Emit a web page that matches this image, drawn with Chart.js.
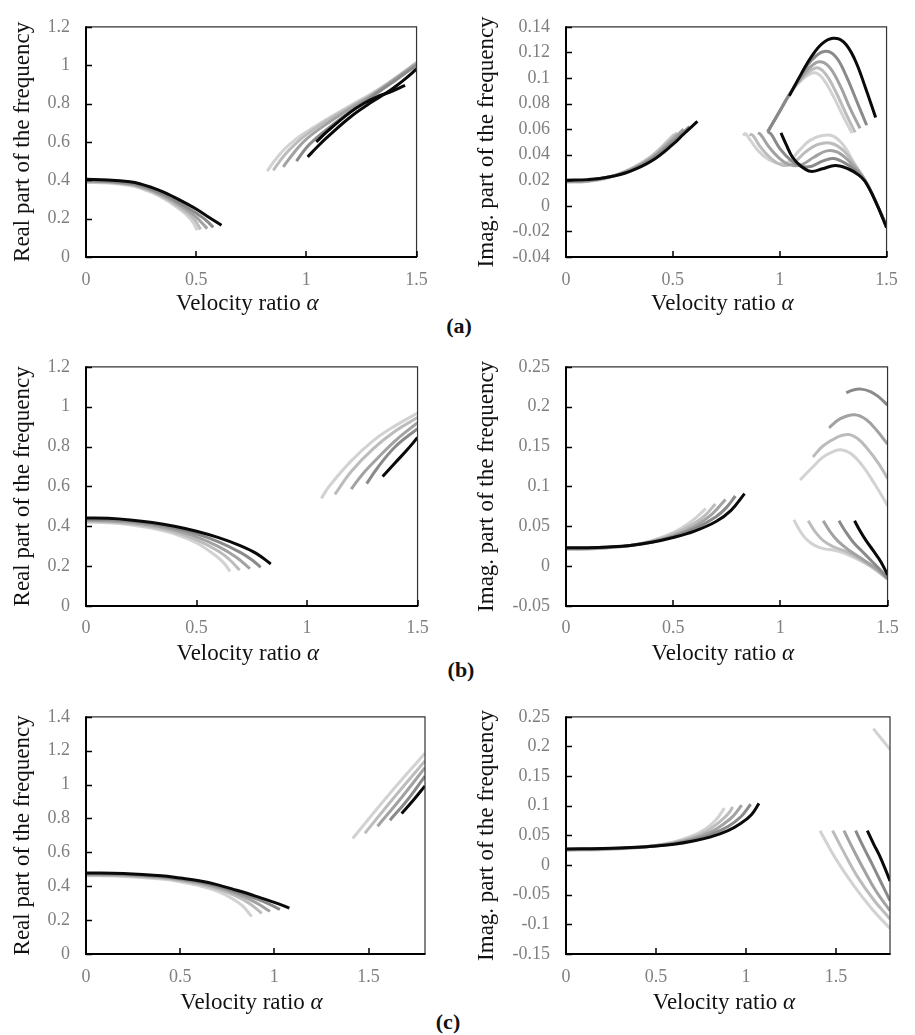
<!DOCTYPE html>
<html>
<head>
<meta charset="utf-8">
<script src="https://cdn.jsdelivr.net/npm/chart.js@4.4.1/dist/chart.umd.min.js"></script>
<style>
  html, body { margin: 0; padding: 0; background: #ffffff; }
  body { width: 915px; height: 1035px; position: relative; overflow: hidden; }
  .panel { position: absolute; }
  .tag { position: absolute; font-family: 'Liberation Serif', 'Times New Roman', serif; font-weight: bold; font-size: 22px; color: #111; transform: translate(-50%, -50%); white-space: nowrap; }
</style>
</head>
<body>
<div class="tag" style="left:459px; top:326px;">(a)</div>
<div class="tag" style="left:461px; top:670px;">(b)</div>
<div class="tag" style="left:448px; top:1022px;">(c)</div>
<script>
// ---------- tick values ----------
const xTicksAB = [0, 0.5, 1, 1.5];
const xTicksC = [0, 0.5, 1, 1.5];
const yTicksReA = [0, 0.2, 0.4, 0.6, 0.8, 1, 1.2];
const yTicksImA = [-0.04, -0.02, 0, 0.02, 0.04, 0.06, 0.08, 0.1, 0.12, 0.14];
const yTicksReB = [0, 0.2, 0.4, 0.6, 0.8, 1, 1.2];
const yTicksImB = [-0.05, 0, 0.05, 0.1, 0.15, 0.2, 0.25];
const yTicksReC = [0, 0.2, 0.4, 0.6, 0.8, 1, 1.2, 1.4];
const yTicksImC = [-0.15, -0.1, -0.05, 0, 0.05, 0.1, 0.15, 0.2, 0.25];

// series shade index: 0 = black, 1..4 = darker to lighter grey
// ---------- panel (a) real part ----------
const a_re_k_lo = [[0,0.405],[0.1,0.402],[0.2,0.392],[0.25,0.38],[0.3,0.362],[0.35,0.34],[0.4,0.312],[0.45,0.282],[0.5,0.25],[0.55,0.213],[0.615,0.165]];
const a_re_4_lo = [[0,0.398],[0.1,0.395],[0.2,0.384],[0.25,0.371],[0.3,0.352],[0.35,0.328],[0.4,0.298],[0.45,0.265],[0.5,0.229],[0.54,0.196],[0.578,0.155]];
const a_re_3_lo = [[0,0.395],[0.1,0.392],[0.2,0.38],[0.25,0.366],[0.3,0.346],[0.35,0.32],[0.4,0.288],[0.45,0.251],[0.5,0.208],[0.55,0.148]];
const a_re_2_lo = [[0,0.392],[0.1,0.389],[0.2,0.376],[0.25,0.362],[0.3,0.341],[0.35,0.313],[0.4,0.279],[0.45,0.238],[0.49,0.198],[0.52,0.143]];
const a_re_1_lo = [[0,0.389],[0.1,0.386],[0.2,0.372],[0.25,0.357],[0.3,0.335],[0.35,0.306],[0.4,0.27],[0.45,0.226],[0.48,0.19],[0.505,0.14]];
const a_re_k_up1 = [[1.006,0.522],[1.05,0.575],[1.1,0.63],[1.2,0.73],[1.3,0.81],[1.36,0.853],[1.4,0.885],[1.45,0.93],[1.5,0.98]];
const a_re_k_up2 = [[1.045,0.6],[1.1,0.66],[1.2,0.755],[1.26,0.8],[1.32,0.835],[1.38,0.86],[1.448,0.895]];
const a_re_4_up = [[0.955,0.5],[1.0,0.57],[1.05,0.625],[1.1,0.672],[1.2,0.758],[1.3,0.838],[1.4,0.918],[1.5,1.0]];
const a_re_3_up = [[0.895,0.47],[0.95,0.553],[1.0,0.615],[1.1,0.70],[1.2,0.775],[1.3,0.845],[1.4,0.925],[1.5,1.008]];
const a_re_2_up = [[0.85,0.452],[0.9,0.53],[0.95,0.59],[1.0,0.638],[1.1,0.715],[1.2,0.783],[1.3,0.85],[1.4,0.928],[1.5,1.012]];
const a_re_1_up = [[0.822,0.448],[0.86,0.508],[0.9,0.562],[0.95,0.612],[1.0,0.652],[1.1,0.723],[1.2,0.79],[1.3,0.855],[1.4,0.93],[1.5,1.015]];

// ---------- panel (a) imaginary part ----------
const a_im_k_lo = [[0,0.02],[0.1,0.0205],[0.2,0.0225],[0.3,0.027],[0.4,0.035],[0.5,0.048],[0.55,0.056],[0.615,0.066]];
const a_im_4_lo = [[0,0.0195],[0.1,0.02],[0.2,0.0225],[0.3,0.0275],[0.4,0.0365],[0.5,0.05],[0.578,0.062]];
const a_im_3_lo = [[0,0.019],[0.1,0.0195],[0.2,0.0225],[0.3,0.028],[0.4,0.0375],[0.5,0.052],[0.55,0.06]];
const a_im_2_lo = [[0,0.0188],[0.1,0.0193],[0.2,0.0223],[0.3,0.0285],[0.4,0.0385],[0.52,0.057]];
const a_im_1_lo = [[0,0.0185],[0.1,0.019],[0.2,0.022],[0.3,0.029],[0.4,0.039],[0.505,0.056]];
const a_im_k_up = [[1.045,0.086],[1.1,0.103],[1.15,0.117],[1.2,0.127],[1.25,0.131],[1.3,0.128],[1.35,0.115],[1.4,0.093],[1.449,0.069]];
const a_im_4_up = [[0.944,0.058],[1.0,0.074],[1.045,0.087],[1.1,0.102],[1.15,0.114],[1.207,0.1207],[1.26,0.117],[1.31,0.102],[1.36,0.082],[1.407,0.063]];
const a_im_3_up = [[0.944,0.058],[1.0,0.074],[1.045,0.087],[1.1,0.1],[1.14,0.108],[1.184,0.1127],[1.23,0.109],[1.28,0.095],[1.33,0.076],[1.376,0.0606]];
const a_im_2_up = [[0.944,0.058],[1.0,0.074],[1.045,0.087],[1.1,0.099],[1.168,0.1078],[1.21,0.104],[1.26,0.09],[1.31,0.072],[1.353,0.0574]];
const a_im_1_up = [[0.944,0.058],[1.0,0.074],[1.045,0.087],[1.1,0.098],[1.16,0.104],[1.2,0.1],[1.25,0.086],[1.3,0.069],[1.338,0.0569]];
const a_im_k_mid = [[1.006,0.057],[1.03,0.048],[1.06,0.038],[1.1,0.031],[1.145,0.027],[1.2,0.029],[1.26,0.0315],[1.32,0.029],[1.37,0.024],[1.4,0.019],[1.45,0.003],[1.5,-0.017]];
const a_im_4_mid = [[0.944,0.058],[0.96,0.056],[1.0,0.045],[1.05,0.036],[1.1,0.031],[1.15,0.031],[1.2,0.035],[1.25,0.037],[1.3,0.034],[1.36,0.027],[1.4,0.019],[1.45,0.003],[1.5,-0.016]];
const a_im_3_mid = [[0.898,0.057],[0.91,0.056],[0.95,0.046],[1.0,0.037],[1.05,0.032],[1.1,0.032],[1.16,0.038],[1.22,0.043],[1.27,0.042],[1.33,0.034],[1.4,0.02],[1.45,0.003],[1.5,-0.016]];
const a_im_2_mid = [[0.859,0.056],[0.875,0.055],[0.91,0.046],[0.96,0.037],[1.01,0.032],[1.06,0.033],[1.12,0.042],[1.18,0.048],[1.24,0.049],[1.3,0.043],[1.35,0.032],[1.4,0.02],[1.45,0.003],[1.5,-0.016]];
const a_im_1_mid = [[0.829,0.055],[0.84,0.0565],[0.86,0.052],[0.9,0.043],[0.95,0.036],[1.0,0.033],[1.04,0.034],[1.09,0.043],[1.14,0.051],[1.2,0.055],[1.25,0.0545],[1.3,0.047],[1.35,0.033],[1.4,0.02],[1.45,0.003],[1.5,-0.016]];

// ---------- panel (b) real part ----------
const b_re_k_lo = [[0,0.442],[0.1,0.44],[0.2,0.432],[0.3,0.419],[0.4,0.4],[0.5,0.375],[0.6,0.343],[0.7,0.302],[0.77,0.264],[0.836,0.211]];
const b_re_4_lo = [[0,0.435],[0.1,0.433],[0.2,0.426],[0.3,0.412],[0.4,0.391],[0.5,0.362],[0.6,0.322],[0.7,0.268],[0.75,0.232],[0.79,0.194]];
const b_re_3_lo = [[0,0.43],[0.1,0.428],[0.2,0.42],[0.3,0.405],[0.4,0.381],[0.5,0.347],[0.6,0.298],[0.68,0.245],[0.742,0.187]];
const b_re_2_lo = [[0,0.425],[0.1,0.423],[0.2,0.414],[0.3,0.397],[0.4,0.371],[0.5,0.332],[0.6,0.275],[0.65,0.232],[0.695,0.18]];
const b_re_1_lo = [[0,0.42],[0.1,0.418],[0.2,0.408],[0.3,0.39],[0.4,0.362],[0.5,0.316],[0.58,0.258],[0.62,0.22],[0.652,0.174]];
const b_re_k_up = [[1.342,0.65],[1.4,0.72],[1.45,0.78],[1.5,0.845]];
const b_re_4_up = [[1.27,0.614],[1.32,0.695],[1.4,0.8],[1.5,0.89]];
const b_re_3_up = [[1.2,0.586],[1.25,0.66],[1.3,0.72],[1.4,0.83],[1.5,0.92]];
const b_re_2_up = [[1.126,0.56],[1.2,0.675],[1.3,0.79],[1.4,0.878],[1.5,0.945]];
const b_re_1_up = [[1.065,0.54],[1.1,0.6],[1.2,0.728],[1.3,0.83],[1.4,0.905],[1.5,0.968]];

// ---------- panel (b) imaginary part ----------
const b_im_k_lo = [[0,0.023],[0.1,0.023],[0.2,0.024],[0.3,0.026],[0.4,0.03],[0.5,0.036],[0.6,0.044],[0.7,0.056],[0.77,0.07],[0.833,0.091]];
const b_im_4_lo = [[0,0.0225],[0.1,0.0225],[0.2,0.024],[0.3,0.026],[0.4,0.03],[0.5,0.037],[0.6,0.047],[0.7,0.062],[0.75,0.074],[0.79,0.088]];
const b_im_3_lo = [[0,0.022],[0.1,0.022],[0.2,0.0235],[0.3,0.026],[0.4,0.031],[0.5,0.038],[0.6,0.05],[0.68,0.065],[0.744,0.0836]];
const b_im_2_lo = [[0,0.0215],[0.1,0.022],[0.2,0.0235],[0.3,0.026],[0.4,0.031],[0.5,0.04],[0.6,0.054],[0.65,0.064],[0.697,0.078]];
const b_im_1_lo = [[0,0.021],[0.1,0.021],[0.2,0.023],[0.3,0.026],[0.4,0.032],[0.5,0.042],[0.58,0.055],[0.652,0.072]];
const b_im_4_up = [[1.307,0.2175],[1.34,0.221],[1.376,0.222],[1.42,0.219],[1.46,0.212],[1.5,0.202]];
const b_im_3_up = [[1.227,0.1735],[1.28,0.185],[1.346,0.19],[1.4,0.184],[1.45,0.17],[1.5,0.153]];
const b_im_2_up = [[1.152,0.137],[1.2,0.151],[1.26,0.161],[1.315,0.165],[1.36,0.16],[1.41,0.146],[1.46,0.128],[1.5,0.11]];
const b_im_1_up = [[1.092,0.108],[1.15,0.124],[1.2,0.137],[1.25,0.144],[1.284,0.146],[1.33,0.141],[1.38,0.127],[1.44,0.103],[1.5,0.076]];
const b_im_k_mid = [[1.346,0.057],[1.37,0.045],[1.4,0.032],[1.44,0.017],[1.47,0.005],[1.5,-0.011]];
const b_im_4_mid = [[1.273,0.057],[1.3,0.045],[1.34,0.03],[1.38,0.019],[1.42,0.008],[1.46,-0.003],[1.5,-0.015]];
const b_im_3_mid = [[1.2,0.057],[1.23,0.044],[1.27,0.031],[1.32,0.02],[1.37,0.011],[1.42,0.002],[1.46,-0.006],[1.5,-0.016]];
const b_im_2_mid = [[1.13,0.057],[1.16,0.044],[1.2,0.032],[1.25,0.024],[1.3,0.019],[1.35,0.012],[1.4,0.004],[1.45,-0.005],[1.5,-0.016]];
const b_im_1_mid = [[1.063,0.058],[1.09,0.045],[1.12,0.034],[1.16,0.026],[1.2,0.022],[1.25,0.02],[1.3,0.016],[1.35,0.01],[1.4,0.003],[1.45,-0.006],[1.5,-0.016]];

// ---------- panel (c) real part ----------
const c_re_k_lo = [[0,0.478],[0.2,0.475],[0.4,0.462],[0.5,0.448],[0.6,0.432],[0.7,0.408],[0.8,0.376],[0.9,0.342],[1.0,0.305],[1.08,0.271]];
const c_re_4_lo = [[0,0.474],[0.2,0.471],[0.4,0.458],[0.5,0.444],[0.6,0.426],[0.7,0.4],[0.8,0.366],[0.9,0.327],[0.97,0.296],[1.03,0.263]];
const c_re_3_lo = [[0,0.47],[0.2,0.467],[0.4,0.453],[0.5,0.439],[0.6,0.42],[0.7,0.392],[0.8,0.355],[0.9,0.305],[0.977,0.252]];
const c_re_2_lo = [[0,0.466],[0.2,0.463],[0.4,0.448],[0.5,0.434],[0.6,0.413],[0.7,0.383],[0.8,0.34],[0.87,0.297],[0.933,0.24]];
const c_re_1_lo = [[0,0.462],[0.2,0.458],[0.4,0.442],[0.5,0.427],[0.6,0.404],[0.7,0.37],[0.78,0.325],[0.83,0.285],[0.88,0.221]];
const c_re_k_up = [[1.676,0.829],[1.74,0.91],[1.8,0.992]];
const c_re_4_up = [[1.614,0.79],[1.7,0.9],[1.8,1.05]];
const c_re_3_up = [[1.548,0.754],[1.68,0.93],[1.8,1.1]];
const c_re_2_up = [[1.481,0.713],[1.64,0.93],[1.8,1.14]];
const c_re_1_up = [[1.416,0.682],[1.6,0.93],[1.8,1.185]];

// ---------- panel (c) imaginary part ----------
const c_im_k_lo = [[0,0.027],[0.2,0.028],[0.4,0.03],[0.5,0.032],[0.6,0.035],[0.7,0.04],[0.8,0.047],[0.9,0.058],[0.97,0.07],[1.03,0.085],[1.072,0.104]];
const c_im_4_lo = [[0,0.0265],[0.2,0.0275],[0.4,0.03],[0.5,0.032],[0.6,0.036],[0.7,0.042],[0.8,0.051],[0.9,0.065],[0.97,0.081],[1.026,0.1025]];
const c_im_3_lo = [[0,0.026],[0.2,0.027],[0.4,0.03],[0.5,0.033],[0.6,0.037],[0.7,0.044],[0.8,0.055],[0.87,0.068],[0.93,0.083],[0.976,0.101]];
const c_im_2_lo = [[0,0.0255],[0.2,0.0265],[0.4,0.0295],[0.5,0.033],[0.6,0.038],[0.7,0.046],[0.78,0.057],[0.85,0.072],[0.9,0.086],[0.926,0.098]];
const c_im_1_lo = [[0,0.025],[0.2,0.026],[0.4,0.029],[0.5,0.033],[0.6,0.039],[0.7,0.049],[0.77,0.06],[0.83,0.075],[0.88,0.096]];
const c_im_k_mid = [[1.674,0.058],[1.71,0.035],[1.74,0.017],[1.77,-0.004],[1.8,-0.027]];
const c_im_4_mid = [[1.609,0.058],[1.65,0.032],[1.7,0.002],[1.75,-0.029],[1.8,-0.06]];
const c_im_3_mid = [[1.544,0.058],[1.6,0.024],[1.65,-0.005],[1.72,-0.043],[1.8,-0.077]];
const c_im_2_mid = [[1.481,0.058],[1.55,0.018],[1.62,-0.02],[1.71,-0.059],[1.8,-0.091]];
const c_im_1_mid = [[1.411,0.058],[1.5,0.01],[1.6,-0.035],[1.7,-0.074],[1.8,-0.107]];
const c_im_1_up = [[1.707,0.23],[1.8,0.195]];

// ---------- styling ----------
const shades = ['#0a0a0a', '#8a8a8a', '#a2a2a2', '#bcbcbc', '#d2d2d2'];
const FONT = "'Liberation Serif', 'Times New Roman', serif";
const X_TITLE = 'Velocity ratio ';
const X_TITLE_SYMBOL = 'α';

const rows = [
  { top: 0,   areaTop: 15,  areaBottom: 257, titleY: 304, tickY: 280 },
  { top: 340, areaTop: 363, areaBottom: 606, titleY: 654, tickY: 628 },
  { top: 690, areaTop: 713, areaBottom: 954, titleY: 1003, tickY: 977 }
];
const cols = [
  { left: 0,   width: 440, areaLeft: 86,  areaRight: 425, titleX: 23 },
  { left: 455, width: 455, areaLeft: 566, areaRight: 890, titleX: 487 }
];

const panels = [
  { row: 0, col: 0, ytitle: 'Real part of the frequency', xmax: 1.5, xt: xTicksAB, ymin: 0, ymax: 1.2, yt: yTicksReA,
    curves: [[a_re_k_lo,0],[a_re_k_up1,0],[a_re_k_up2,0],[a_re_4_lo,1],[a_re_4_up,1],[a_re_3_lo,2],[a_re_3_up,2],[a_re_2_lo,3],[a_re_2_up,3],[a_re_1_lo,4],[a_re_1_up,4]] },
  { row: 0, col: 1, ytitle: 'Imag. part of the frequency', xmax: 1.5, xt: xTicksAB, ymin: -0.04, ymax: 0.14, yt: yTicksImA,
    curves: [[a_im_k_lo,0],[a_im_k_up,0],[a_im_k_mid,0],[a_im_4_lo,1],[a_im_4_up,1],[a_im_4_mid,1],[a_im_3_lo,2],[a_im_3_up,2],[a_im_3_mid,2],[a_im_2_lo,3],[a_im_2_up,3],[a_im_2_mid,3],[a_im_1_lo,4],[a_im_1_up,4],[a_im_1_mid,4]] },
  { row: 1, col: 0, ytitle: 'Real part of the frequency', xmax: 1.5, xt: xTicksAB, ymin: 0, ymax: 1.2, yt: yTicksReB,
    curves: [[b_re_k_lo,0],[b_re_k_up,0],[b_re_4_lo,1],[b_re_4_up,1],[b_re_3_lo,2],[b_re_3_up,2],[b_re_2_lo,3],[b_re_2_up,3],[b_re_1_lo,4],[b_re_1_up,4]] },
  { row: 1, col: 1, ytitle: 'Imag. part of the frequency', xmax: 1.5, xt: xTicksAB, ymin: -0.05, ymax: 0.25, yt: yTicksImB,
    curves: [[b_im_k_lo,0],[b_im_k_mid,0],[b_im_4_lo,1],[b_im_4_up,1],[b_im_4_mid,1],[b_im_3_lo,2],[b_im_3_up,2],[b_im_3_mid,2],[b_im_2_lo,3],[b_im_2_up,3],[b_im_2_mid,3],[b_im_1_lo,4],[b_im_1_up,4],[b_im_1_mid,4]] },
  { row: 2, col: 0, ytitle: 'Real part of the frequency', xmax: 1.8, xt: xTicksC, ymin: 0, ymax: 1.4, yt: yTicksReC,
    curves: [[c_re_k_lo,0],[c_re_k_up,0],[c_re_4_lo,1],[c_re_4_up,1],[c_re_3_lo,2],[c_re_3_up,2],[c_re_2_lo,3],[c_re_2_up,3],[c_re_1_lo,4],[c_re_1_up,4]] },
  { row: 2, col: 1, ytitle: 'Imag. part of the frequency', xmax: 1.8, xt: xTicksC, ymin: -0.15, ymax: 0.25, yt: yTicksImC,
    curves: [[c_im_k_lo,0],[c_im_k_mid,0],[c_im_4_lo,1],[c_im_4_mid,1],[c_im_3_lo,2],[c_im_3_mid,2],[c_im_2_lo,3],[c_im_2_mid,3],[c_im_1_lo,4],[c_im_1_mid,4],[c_im_1_up,4]] }
];

const framePlugin = {
  id: 'frame',
  afterDatasetsDraw(chart) {
    const { ctx, chartArea: { left, right, top, bottom }, scales: { x, y } } = chart;
    ctx.save();
    ctx.lineCap = 'butt';
    ctx.strokeStyle = '#333';
    ctx.lineWidth = 1.2;
    ctx.beginPath();
    ctx.moveTo(left, top); ctx.lineTo(right, top); ctx.lineTo(right, bottom);
    ctx.stroke();
    ctx.strokeStyle = '#000';
    ctx.lineWidth = 2;
    ctx.beginPath();
    ctx.moveTo(left, top - 0.6); ctx.lineTo(left, bottom); ctx.lineTo(right + 0.6, bottom);
    ctx.stroke();
    ctx.lineWidth = 1.5;
    ctx.beginPath();
    y.ticks.forEach(t => { const p = Math.round(y.getPixelForValue(t.value)) + 0.5; ctx.moveTo(left, p); ctx.lineTo(left + 6, p); });
    x.ticks.forEach(t => { const p = Math.round(x.getPixelForValue(t.value)); ctx.moveTo(p, bottom); ctx.lineTo(p, bottom - 6); });
    ctx.stroke();
    ctx.restore();
  }
};

// x-axis title: "Velocity ratio" upright followed by an italic alpha
const xTitlePlugin = {
  id: 'xTitle',
  afterDraw(chart, args, opts) {
    const { ctx, chartArea } = chart;
    const size = 23;
    ctx.save();
    ctx.fillStyle = '#111';
    ctx.textBaseline = 'middle';
    ctx.textAlign = 'left';
    ctx.font = size + 'px ' + FONT;
    const w1 = ctx.measureText(X_TITLE).width;
    ctx.font = 'italic ' + size + 'px ' + FONT;
    const w2 = ctx.measureText(X_TITLE_SYMBOL).width;
    const cx = (chartArea.left + chartArea.right) / 2 - 4;
    const x0 = cx - (w1 + w2) / 2;
    ctx.font = size + 'px ' + FONT;
    ctx.fillText(X_TITLE, x0, opts.y);
    ctx.font = 'italic ' + size + 'px ' + FONT;
    ctx.fillText(X_TITLE_SYMBOL, x0 + w1, opts.y);
    ctx.restore();
  }
};

function fmt(v) { return String(Math.round(v * 1000) / 1000); }

panels.forEach(p => {
  const r = rows[p.row], c = cols[p.col];
  const canvasH = r.titleY + 22 - r.top;
  const xAxisH = canvasH - (r.areaBottom - r.top);
  const yAxisW = c.areaLeft - c.left;
  const div = document.createElement('div');
  div.className = 'panel';
  div.style.left = c.left + 'px';
  div.style.top = r.top + 'px';
  div.style.width = c.width + 'px';
  div.style.height = canvasH + 'px';
  const cv = document.createElement('canvas');
  cv.width = c.width; cv.height = canvasH;
  cv.style.width = c.width + 'px'; cv.style.height = canvasH + 'px';
  div.appendChild(cv);
  document.body.appendChild(div);

  const datasets = p.curves.map(([pts, s]) => ({
    data: pts.map(([a, v]) => ({ x: a, y: v })),
    borderColor: shades[s],
    borderWidth: 3,
    pointRadius: 0,
    fill: false,
    tension: 0.4,
    order: s
  }));

  new Chart(cv, {
    type: 'line',
    data: { datasets },
    options: {
      responsive: false,
      animation: false,
      devicePixelRatio: 1,
      events: [],
      layout: { padding: { top: r.areaTop - r.top, right: c.left + c.width - c.areaRight, left: 0, bottom: 0 } },
      plugins: { legend: { display: false }, tooltip: { enabled: false }, xTitle: { y: r.titleY - r.top } },
      scales: {
        x: {
          type: 'linear', min: 0, max: p.xmax,
          afterBuildTicks: s => { s.ticks = p.xt.map(v => ({ value: v })); },
          afterFit: s => { s.height = xAxisH; },
          grid: { display: false, drawTicks: false },
          border: { display: false },
          ticks: { callback: v => fmt(v), color: '#7f7f7f', font: { family: FONT, size: 18 }, padding: r.tickY - r.areaBottom - 10.8, maxRotation: 0 },
          title: { display: false, text: X_TITLE + X_TITLE_SYMBOL }
        },
        y: {
          type: 'linear', min: p.ymin, max: p.ymax,
          afterBuildTicks: s => { s.ticks = p.yt.map(v => ({ value: v })); },
          afterFit: s => { s.width = yAxisW; },
          grid: { display: false, drawTicks: false },
          border: { display: false },
          ticks: { callback: v => fmt(v), color: '#7f7f7f', font: { family: FONT, size: 18 }, padding: 16 },
          title: { display: true, text: p.ytitle, color: '#111', font: { family: FONT, size: 23, lineHeight: 1.2 }, padding: { top: c.titleX - c.left - 13.8, bottom: 0 } }
        }
      }
    },
    plugins: [framePlugin, xTitlePlugin]
  });
});
</script>
</body>
</html>
